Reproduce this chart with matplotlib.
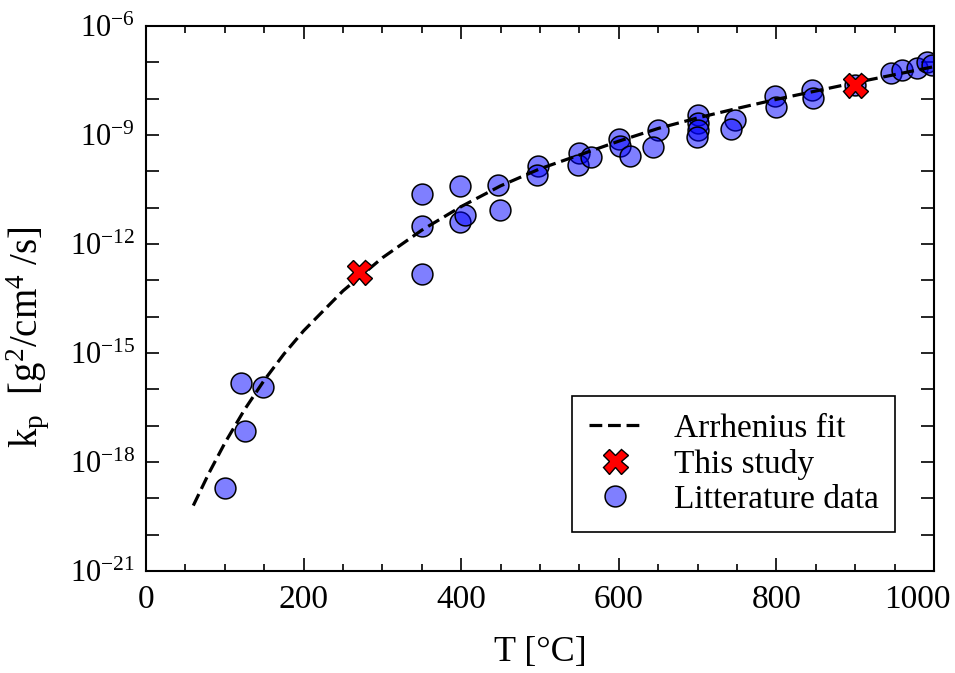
import numpy as np
import matplotlib
matplotlib.use('Agg')
import matplotlib.pyplot as plt
from matplotlib.ticker import FixedLocator, FuncFormatter, NullFormatter
from matplotlib.transforms import ScaledTranslation

plt.rcParams['font.family'] = ['Liberation Serif', 'DejaVu Serif']
plt.rcParams['mathtext.fontset'] = 'custom'
plt.rcParams['mathtext.rm'] = 'Liberation Serif'
plt.rcParams['mathtext.it'] = 'Liberation Serif:italic'

# Arrhenius fit curve (T in C, log10 kp)
fit_T = [60, 80, 100, 125, 150, 175, 200, 250, 300, 350, 400, 450, 500,
         550, 600, 650, 700, 750, 800, 850, 900, 950, 1000]
fit_logk = [-19.2, -18.3, -17.48, -16.56, -15.75, -15.03, -14.39, -13.29, -12.38,
            -11.62, -10.97, -10.40, -9.93, -9.55, -9.17, -8.82, -8.53, -8.27,
            -8.02, -7.79, -7.56, -7.34, -7.12]

# this study
study_T = [270, 900]
study_logk = [-12.78, -7.62]

# literature data
lit_T = [100, 120, 125, 149, 350, 350, 350, 398, 398, 405, 447, 449,
         497, 496, 550, 548, 565, 600, 601, 614, 650, 644,
         701, 700, 700, 699, 747, 743, 798, 800, 845, 847,
         900, 946, 959, 978, 991, 997]
lit_logk = [-18.71, -15.82, -17.14, -15.93, -10.62, -11.50, -12.83, -10.40, -11.40, -11.20, -10.39, -11.07,
            -9.85, -10.10, -9.50, -9.84, -9.60, -9.12, -9.30, -9.57, -8.86, -9.32,
            -8.45, -8.68, -8.86, -9.06, -8.59, -8.83, -7.93, -8.22, -7.77, -7.99,
            -7.62, -7.30, -7.21, -7.16, -6.98, -7.07]

fig = plt.figure(figsize=(9.55, 6.73), dpi=100)
ax = fig.add_axes([0.1529, 0.1516, 0.8251, 0.8098])

ax.plot(fit_T, 10.0 ** np.array(fit_logk), color='k', lw=2.3, dashes=(4, 1.8),
        label='Arrhenius fit', zorder=3)
ax.plot(study_T, 10.0 ** np.array(study_logk), ls='none', marker='X', ms=18,
        mfc='red', mec='k', mew=1.0, label='This study', zorder=4)
ax.plot(lit_T, 10.0 ** np.array(lit_logk), ls='none', marker='o', ms=15,
        mfc=(0, 0, 1, 0.5), mec='k', mew=1.1, label='Litterature data', zorder=2)

ax.set_yscale('log')
ax.set_xlim(0, 1000)
ax.set_ylim(1e-21, 1e-6)

ax.xaxis.set_major_locator(FixedLocator([0, 200, 400, 600, 800, 1000]))
ax.xaxis.set_minor_locator(FixedLocator(np.arange(0, 1001, 50)))
majors = [10.0 ** e for e in range(-21, -5, 3)]
minors = [10.0 ** e for e in range(-21, -5) if e % 3 != 0]
ax.yaxis.set_major_locator(FixedLocator(majors))
ax.yaxis.set_minor_locator(FixedLocator(minors))
ax.yaxis.set_major_formatter(FuncFormatter(
    lambda v, p: r'$10^{%d}$' % int(round(np.log10(v)))))
ax.yaxis.set_minor_formatter(NullFormatter())

ax.tick_params(which='both', direction='in', top=True, right=True, width=1.2)
ax.tick_params(axis='x', which='major', length=9.5, pad=10, labelsize=24)
ax.tick_params(axis='x', which='minor', length=5)
ax.tick_params(axis='y', which='both', length=9.5, pad=8, labelsize=22)
for s in ax.spines.values():
    s.set_linewidth(1.5)

# last x label sits a bit to the left so it stays inside the figure
fig.canvas.draw()
last = ax.get_xticklabels()[-1]
last.set_transform(last.get_transform() + ScaledTranslation(-0.17, 0, fig.dpi_scale_trans))

ax.set_xlabel(u'T [\u00b0C]', fontsize=26, labelpad=15)
ax.set_ylabel(r'k$_\mathrm{p}$  [g$^2$/cm$^4$ /s]', fontsize=28)
ax.yaxis.set_label_coords(-0.12, 0.43)

leg = ax.legend(loc='lower right', bbox_to_anchor=(0.951, 0.072), fontsize=24,
                frameon=True, fancybox=False, edgecolor='k', framealpha=1,
                handlelength=1.56, labelspacing=0.15, borderpad=0.5,
                handletextpad=1.0, borderaxespad=0)
leg.get_frame().set_linewidth(1.2)

fig.savefig('out.png', dpi=100)
